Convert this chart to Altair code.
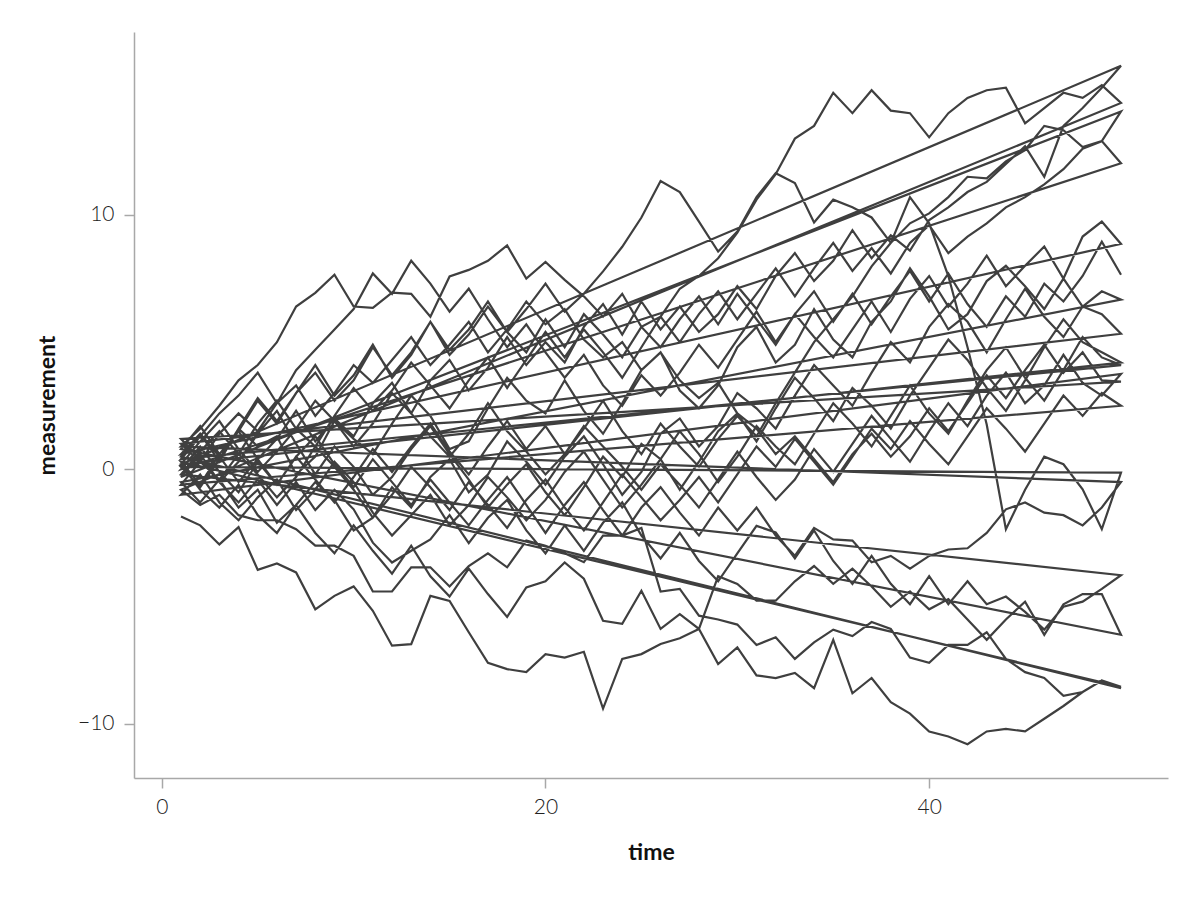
import altair as alt
import pandas as pd

time = list(range(1, 51))

s01 = [0.5, 1.4, 0.3, 1.6, 2.8, 1.9, 3.0, 4.1, 2.9, 3.7,
       4.9, 3.6, 4.5, 5.8, 4.7, 5.5, 6.6, 5.4, 4.6, 5.9,
       4.8, 6.1, 5.3, 4.4, 5.6, 6.0, 7.1, 7.6, 8.3, 9.3,
       10.6, 11.6, 13.0, 13.5, 14.8, 14.0, 14.9, 14.1, 14.0, 13.05,
       14.0, 14.6, 14.9, 15.0, 13.6, 14.2, 14.8, 14.6, 15.1, 14.4]
s02 = [0.3, -0.6, 0.6, 1.5, 0.4, 1.2, 2.3, 1.1, 2.0, 1.3,
       2.6, 3.4, 2.2, 3.5, 4.3, 3.1, 4.0, 5.2, 4.1, 5.0,
       4.2, 5.6, 6.5, 5.3, 6.6, 5.5, 6.4, 5.4, 6.1, 7.2,
       6.3, 7.6, 8.5, 7.4, 8.2, 9.4, 8.3, 9.2, 8.6, 9.8,
       10.3, 10.9, 11.3, 12.0, 12.7, 11.5, 13.5, 14.2, 15.0, 15.86]
s03 = [0.8, 1.7, 0.6, 1.5, 2.7, 1.8, 3.0, 3.8, 2.7, 3.5,
       4.8, 3.7, 4.6, 5.8, 4.5, 5.3, 6.4, 5.4, 6.3, 7.3,
       6.2, 6.9, 7.78, 8.75, 9.9, 11.33, 10.9, 9.74, 8.56, 9.35,
       10.7, 11.64, 11.25, 9.7, 10.6, 10.3, 9.9, 8.9, 9.67, 10.06,
       10.7, 11.5, 11.44, 12.1, 12.55, 13.5, 13.33, 12.67, 12.9, 14.07]
s04 = [-0.2, 0.7, 1.5, 0.6, 1.8, 2.7, 1.6, 0.9, 2.1, 3.2,
       2.3, 3.1, 4.2, 3.3, 2.4, 3.5, 4.4, 3.2, 4.3, 5.4,
       4.4, 5.5, 4.6, 3.6, 4.8, 6.0, 5.0, 6.1, 7.0, 5.9,
       6.9, 7.9, 6.8, 7.9, 8.9, 7.8, 8.7, 7.7, 8.9, 9.6,
       8.5, 9.15, 9.67, 10.3, 10.7, 11.2, 11.8, 12.6, 12.9, 12.03]
s05 = [0.9, 1.6, 2.5, 3.5, 4.1, 5.0, 6.4, 6.94, 7.65, 6.4,
       6.35, 6.95, 6.9, 6.0, 7.58, 7.84, 8.2, 8.8, 7.5, 8.15,
       7.45, 6.8, 6.0, 6.9, 5.6, 4.8, 5.9, 6.8, 5.7, 6.9,
       5.9, 4.9, 6.1, 5.2, 4.4, 5.5, 6.6, 5.4, 6.7, 7.6,
       6.4, 7.3, 8.4, 7.2, 8.0, 8.76, 7.5, 9.15, 9.74, 8.86]
s06 = [0.4, 1.3, 2.2, 2.9, 3.8, 2.6, 3.9, 4.7, 5.5, 6.3,
       7.7, 6.9, 8.2, 7.3, 6.2, 7.1, 5.9, 4.8, 5.7, 4.6,
       3.6, 4.5, 3.3, 2.5, 3.7, 2.9, 3.8, 4.9, 4.0, 5.1,
       6.2, 5.0, 6.1, 7.0, 5.8, 6.9, 5.7, 6.8, 7.8, 6.6,
       7.7, 6.5, 5.6, 6.8, 6.0, 7.3, 6.6, 7.6, 8.95, 7.65]
s07 = [0.1, -0.7, 0.4, 1.6, 0.9, 1.3, -0.2, 0.5, 1.9, 1.2,
       0.6, 1.8, 2.9, 2.1, 0.8, 1.1, 2.4, 3.6, 2.7, 2.2,
       3.5, 2.3, 1.4, 2.6, 3.9, 4.6, 3.1, 2.4, 3.3, 4.8,
       5.6, 4.2, 4.9, 6.3, 5.1, 4.4, 5.8, 6.6, 7.9, 6.8,
       5.5, 6.1, 7.4, 8.0, 7.2, 6.3, 7.5, 6.4, 7.0, 6.67]
s08 = [-0.6, 0.3, -0.4, -1.5, -0.8, -2.1, -1.4, -0.5, -1.2, -2.4,
       -1.9, -0.7, -1.5, -0.3, 0.4, -0.9, -0.2, 1.1, 0.3, -0.6,
       0.5, 1.3, 0.2, -1.0, -0.1, 1.4, 2.0, 0.9, 1.7, 3.0,
       2.4, 1.6, 2.9, 4.1, 3.3, 2.5, 3.8, 5.0, 4.2, 5.6,
       6.5, 5.8, 4.6, 5.9, 7.1, 6.0, 5.2, 6.4, 6.1, 5.33]
s09 = [1.2, 0.4, -0.5, 0.3, 1.4, 2.3, 1.0, -0.2, 0.9, 0.1,
       -1.0, -0.3, 0.8, 1.7, 0.6, -0.4, -1.5, -0.6, 0.2, -0.9,
       -1.8, -0.7, 0.5, -0.3, 1.0, 0.4, -0.8, 0.3, 1.5, 2.2,
       1.1, 2.4, 3.6, 2.8, 1.9, 3.2, 2.5, 1.6, 2.9, 4.0,
       5.1, 4.3, 3.2, 2.3, 3.5, 4.8, 5.9, 5.0, 4.6, 4.2]
s10 = [-1.0, -0.2, -1.3, -2.0, -1.1, -0.4, -1.6, -0.8, 0.3, -0.5,
       -1.7, -2.6, -1.8, -1.0, -2.2, -1.4, -0.3, -1.1, -2.0, -1.2,
       -0.1, 0.7, -0.4, -1.5, -0.6, 0.4, 1.5, 0.6, -0.5, 0.5,
       1.7, 0.9, 0.2, 1.4, 2.6, 1.8, 0.9, 2.1, 3.3, 2.2,
       1.4, 2.7, 3.9, 4.8, 3.6, 2.7, 3.9, 5.2, 4.4, 4.1]
s11 = [0.2, 1.1, 1.9, 0.8, -0.1, 0.7, 1.6, 2.7, 1.9, 0.9,
       1.8, 3.0, 2.2, 1.3, 0.5, 1.4, 2.6, 1.5, 0.7, -0.2,
       0.6, 1.7, 0.9, 0.1, -0.8, 0.2, -0.6, -1.5, -0.4, 0.7,
       -0.3, -1.2, -0.4, 0.8, -0.1, 1.0, 2.1, 1.2, 0.3, 1.5,
       2.6, 1.7, 2.9, 3.8, 2.6, 3.3, 4.5, 3.4, 2.9, 3.75]
s12 = [1.0, 0.3, 1.4, 2.2, 1.5, 2.6, 3.3, 2.1, 3.0, 4.1,
       3.4, 4.3, 5.2, 4.1, 4.9, 5.8, 4.6, 5.5, 6.6, 5.7,
       6.3, 5.1, 4.4, 5.0, 3.9, 4.6, 3.5, 2.8, 3.4, 2.2,
       1.6, 0.6, 1.3, 0.4, -0.5, 0.6, 1.4, 0.5, 1.3, 2.4,
       1.5, 2.6, 3.7, 2.8, 3.9, 4.9, 3.8, 4.6, 3.5, 3.45]
s13 = [-0.5, -1.3, -0.4, 0.6, -0.2, -1.1, -0.3, 0.9, 0.1, -0.8,
       -1.9, -1.0, 0.1, -0.7, -1.6, -0.5, -1.4, -2.3, -1.2, -0.4,
       -1.5, -2.4, -1.3, -0.2, -1.1, -2.0, -1.2, -0.3, -1.3, -0.2,
       0.9, 0.1, 1.2, 0.3, -0.6, 0.5, 1.6, 0.8, 1.9, 1.0,
       0.2, 1.3, 2.4, 1.6, 0.7, 1.8, 2.9, 2.1, 3.0, 2.5]
s14 = [0.6, 1.4, 0.5, -0.5, 0.4, -0.6, 0.5, -0.4, -1.3, -0.3,
       0.8, -0.1, 0.9, 1.8, 0.7, -0.2, 0.9, 1.9, 0.8, 1.7,
       0.6, 1.6, 2.7, 1.5, 0.6, 1.8, 0.9, 0.1, 1.2, 2.1,
       1.3, 2.6, 3.8, 5.0, 5.9, 6.8, 7.98, 8.9, 10.7, 9.67,
       7.6, 4.8, 1.76, -2.35, -0.8, 0.5, 0.2, -0.78, -2.35, -0.13]
s15 = [0.0, 0.9, -0.1, -0.9, 0.3, -0.6, 0.5, 1.3, 0.2, -0.7,
       0.4, -0.5, -1.4, -0.4, -1.3, -2.2, -1.2, -0.3, -1.4, -2.5,
       -1.4, -0.5, -1.6, -2.6, -1.5, -0.7, -1.7, -2.6, -1.5, -2.4,
       -1.5, -2.6, -3.4, -2.3, -2.75, -2.8, -3.65, -3.4, -3.9, -3.4,
       -3.15, -3.1, -2.5, -1.57, -1.3, -1.7, -1.8, -2.2, -1.5, -0.5]
s16 = [-0.3, 0.6, -0.5, -1.3, -0.4, -1.4, -0.5, -1.6, -0.8, -1.57,
       -2.88, -3.66, -3.2, -2.75, -1.8, -2.9, -1.9, -1.2, -2.4, -3.3,
       -2.2, -3.2, -2.1, -1.3, -2.6, -3.5, -2.5, -3.6, -4.4, -3.3,
       -2.22, -2.48, -3.5, -2.4, -3.6, -4.5, -3.4, -4.5, -5.3, -4.2,
       -5.3, -4.4, -5.3, -5.0, -5.6, -6.3, -5.4, -5.2, -4.7, -4.16]
s17 = [0.2, -0.8, -1.5, -0.6, -1.8, -2.5, -1.4, -2.5, -3.3, -2.2,
       -3.2, -4.1, -3.0, -4.2, -5.0, -3.9, -4.9, -5.8, -4.64, -4.4,
       -3.66, -4.3, -5.95, -6.07, -4.77, -6.27, -5.69, -6.27, -4.2, -4.5,
       -5.16, -5.16, -4.4, -3.8, -4.5, -3.9, -4.6, -5.4, -4.8, -5.5,
       -5.1, -5.9, -6.7, -5.9, -5.2, -6.5, -5.3, -4.9, -4.9, -6.5]
s18 = [-0.8, -1.4, -1.0, -1.8, -2.0, -2.0, -2.35, -3.0, -3.0, -3.4,
       -4.8, -4.8, -3.85, -3.85, -4.6, -3.8, -3.3, -3.85, -2.8, -3.0,
       -3.3, -3.65, -2.6, -2.6, -2.3, -4.8, -4.7, -5.75, -5.9, -6.1,
       -6.9, -6.6, -7.45, -6.8, -6.3, -6.55, -6.0, -6.27, -7.4, -7.6,
       -6.9, -6.9, -6.4, -7.45, -7.97, -8.2, -8.9, -8.75, -8.3, -8.55]
s19 = [-1.85, -2.2, -2.95, -2.27, -3.95, -3.7, -4.05, -5.5, -4.97, -4.6,
       -5.56, -6.93, -6.87, -4.97, -5.17, -6.4, -7.6, -7.85, -7.97, -7.26,
       -7.4, -7.17, -9.4, -7.45, -7.26, -6.86, -6.64, -6.27, -7.65, -7.0,
       -8.1, -8.2, -8.0, -8.6, -6.7, -8.8, -8.2, -9.15, -9.6, -10.3,
       -10.5, -10.8, -10.3, -10.2, -10.3, -9.8, -9.3, -8.75, -8.3, -8.6]

# the series are drawn as one continuous line, in this order:
# each series' last point joins the next series' first point
series = [s19, s01, s18, s02, s17, s03, s16, s04, s15, s05,
          s14, s07, s13, s08, s12, s09, s11, s10, s06]

x_ticks = [0, 20, 40]
y_ticks = [-10, 0, 10]

rows = []
n = 0
for vals in series:
    for t, v in zip(time, vals):
        rows.append({"time": t, "measurement": v, "ord": n})
        n += 1
df = pd.DataFrame(rows)

LAB_FONT = "Lato"
TITLE_FONT = "Lato"
AX_COLOR = "#a8a8a8"

chart = alt.Chart(df).mark_line(color="#3f3f3f", strokeWidth=2.2, strokeJoin="miter").encode(
    x=alt.X("time:Q",
            scale=alt.Scale(domain=[-1.45, 52.45], nice=False, zero=False),
            axis=alt.Axis(title="time", values=x_ticks, grid=False,
                          domainColor=AX_COLOR, domainWidth=1.5,
                          tickColor=AX_COLOR, tickWidth=1.5, tickSize=10,
                          labelFont=LAB_FONT, labelFontWeight=300, labelFontSize=21,
                          labelColor="#222222", labelPadding=8,
                          titleFont=TITLE_FONT, titleFontWeight="bold", titleFontSize=23,
                          titleColor="#111111", titleY=74, titleBaseline="middle")),
    y=alt.Y("measurement:Q",
            scale=alt.Scale(domain=[-12.13, 17.19], nice=False, zero=False),
            axis=alt.Axis(title="measurement", values=y_ticks, grid=False,
                          domainColor=AX_COLOR, domainWidth=1.5,
                          tickColor=AX_COLOR, tickWidth=1.5, tickSize=10,
                          labelFont=LAB_FONT, labelFontWeight=300, labelFontSize=21,
                          labelColor="#222222", labelPadding=10,
                          titleFont=TITLE_FONT, titleFontWeight="bold", titleFontSize=23,
                          titleColor="#111111", titleX=-87, titleY=373,
                          titleBaseline="middle", titleAngle=270)),
    order="ord:Q",
).properties(
    width=1034, height=746,
    autosize=alt.AutoSizeParams(type="none"),
    padding={"left": 126, "top": 24, "right": 16, "bottom": 100},
).configure_view(stroke=None)

chart.save("out.html", embed_options={"renderer": "svg", "actions": False})
